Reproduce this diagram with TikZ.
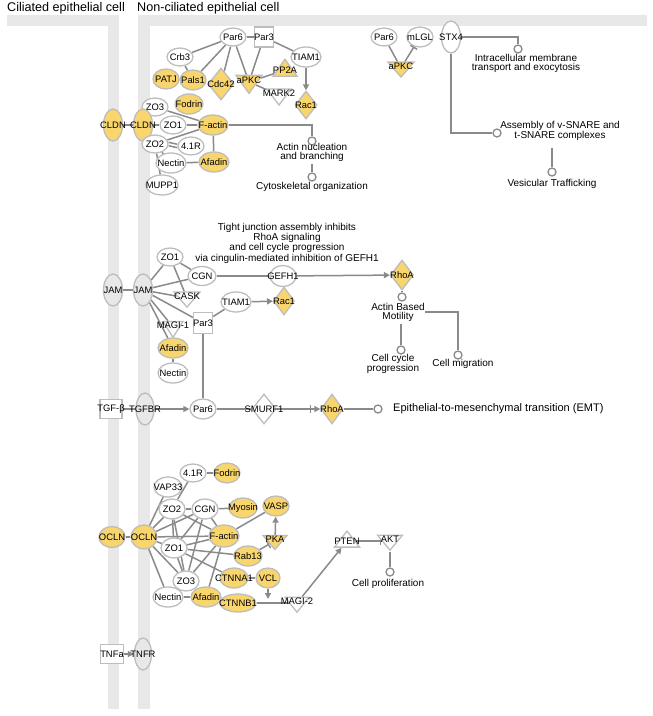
\documentclass[tikz,border=0pt]{standalone}
\usepackage{fontspec}
\setmainfont{Liberation Sans}
\usetikzlibrary{shapes.geometric,arrows.meta,calc}
\definecolor{ipayellow}{HTML}{F9D56E}
\definecolor{nodeborder}{HTML}{BDBDBD}
\definecolor{edgegray}{HTML}{8A8A8A}
\definecolor{bandgray}{HTML}{E8E8E8}
\pgfdeclarelayer{bands}
\pgfdeclarelayer{edges}
\pgfsetlayers{bands,edges,main}
\newcommand{\ipanf}{\fontsize{9.4}{9.4}\selectfont}
\newcommand{\ipaff}{\fontsize{10}{9}\selectfont}
\tikzset{
  base/.style={draw=nodeborder, line width=1.3pt, inner sep=0pt, fill=white},
  sz/.style 2 args={minimum width=#1pt, minimum height=#2pt},
  lb/.style={label={center:#1}},
  lbt/.style={label={[yshift=2pt]center:#1}},
  every label/.style={font=\ipanf, inner sep=0pt, text=black},
  ell/.style={base, ellipse},
  yell/.style={ell, fill=ipayellow},
  gell/.style={ell, fill=bandgray},
  sqr/.style={base, rectangle},
  dia/.style={base, diamond},
  ydia/.style={dia, fill=ipayellow},
  tdn/.style={base, isosceles triangle, isosceles triangle stretches, shape border rotate=270},
  ytdn/.style={tdn, fill=ipayellow},
  tup/.style={base, isosceles triangle, isosceles triangle stretches, shape border rotate=90},
  ytup/.style={tup, fill=ipayellow},
  fn/.style={circle, draw=edgegray, line width=1.3pt, fill=white, minimum size=8pt, inner sep=0pt},
  ln/.style={draw=edgegray, line width=1.5pt},
  act/.style={ln, -{Triangle[width=6pt,length=6pt]}},
  inh/.style={ln, -{Bar[width=8pt]}},
  txt/.style={font=\ipaff, align=center, inner sep=0pt},
  ttl/.style={font=\fontsize{12.6}{13}\selectfont, anchor=west, inner sep=0pt},
}
\begin{document}
\begin{tikzpicture}[x=1pt,y=-1pt]
\useasboundingbox (0,0) rectangle (653,716);
\begin{pgfonlayer}{bands}
\fill[bandgray] (7,15) rectangle (119,26);
\fill[bandgray] (108,15) rectangle (119,709);
\fill[bandgray] (138,15) rectangle (647,26);
\fill[bandgray] (138,15) rectangle (150,709);
\end{pgfonlayer}
\node[ttl] (tcil) at (7,8) {Ciliated epithelial cell};
\node[ttl] (tnon) at (137,8) {Non-ciliated epithelial cell};
% ---------- top section
\node[ell,sz={26}{18},lb=Par6] (par6a) at (233,37) {};
\node[sqr,sz={19}{20},lb=Par3] (par3a) at (264,37) {};
\node[ell,sz={26}{18},lb=Crb3] (crb3) at (180,57) {};
\node[ell,sz={30}{20},lb=TIAM1] (tiam1a) at (306,57) {};
\node[yell,sz={26}{20},lb=PATJ] (patj) at (166,79) {};
\node[yell,sz={26}{20},lb=Pals1] (pals1) at (193,80) {};
\node[ydia,sz={26}{32},lb=Cdc42] (cdc42) at (221,84) {};
\node[ytdn,sz={26}{18},lbt=aPKC] (apkca) at (249,82) {};
\node[ytup,sz={24}{17},lb=PP2A] (pp2a) at (285,70) {};
\node[tdn,sz={24}{16},lbt=MARK2] (mark2) at (279,95) {};
\node[ydia,sz={22}{28},lb=Rac1] (rac1a) at (306,105) {};
\node[ell,sz={26}{18},lb=ZO3] (zo3a) at (155,107) {};
\node[yell,sz={28}{20},lb=Fodrin] (fodrina) at (189,104) {};
\node[yell,sz={19}{32},lb=CLDN] (cldn1) at (113,125) {};
\node[yell,sz={19}{32},lb=CLDN] (cldn2) at (143,125) {};
\node[ell,sz={26}{18},lb=ZO1] (zo1a) at (173,125) {};
\node[yell,sz={30}{20},lb=F-actin] (factina) at (213,125) {};
\node[ell,sz={26}{18},lb=ZO2] (zo2a) at (155,144) {};
\node[ell,sz={26}{18},lb=4.1R] (r41a) at (191,146) {};
\node[ell,sz={30}{20},lb=Nectin] (nectina) at (171,163) {};
\node[yell,sz={30}{20},lb=Afadin] (afadina) at (214,162) {};
\node[ell,sz={32}{20},lb=MUPP1] (mupp1) at (162,185) {};
\node[fn] (fnact) at (312,141) {};
\node[txt] (fnacttxt) at (312,152) {Actin nucleation\\and branching};
\node[fn] (fncyto) at (312,177) {};
\node[txt] (fncytotxt) at (312,187) {Cytoskeletal organization};
% ---------- top right
\node[ell,sz={26}{18},lb=Par6] (par6b) at (384,37) {};
\node[ell,sz={26}{20},lb=mLGL] (mlgl) at (420,37) {};
\node[ell,sz={19}{32},lb=STX4] (stx4) at (451,37) {};
\node[ytdn,sz={26}{15},lbt=aPKC] (apkcb) at (401,68) {};
\node[fn] (fnintra) at (518,49) {};
\node[txt] (fnintratxt) at (526,63) {Intracellular membrane\\transport and exocytosis};
\node[fn] (fnsnare) at (497,133) {};
\node[txt] (fnsnaretxt) at (560,131) {Assembly of v-SNARE and\\t-SNARE complexes};
\node[fn] (fnvesic) at (552,172) {};
\node[txt] (fnvesictxt) at (552,184) {Vesicular Trafficking};
% ---------- middle
\node[gell,sz={19}{32},lb=JAM] (jam1) at (113,290) {};
\node[gell,sz={19}{32},lb=JAM] (jam2) at (143,290) {};
\node[ell,sz={26}{18},lb=ZO1] (zo1b) at (170,257) {};
\node[ell,sz={28}{19},lb=CGN] (cgnb) at (202,276) {};
\node[tdn,sz={26}{15},lbt=CASK] (caskb) at (187,298) {};
\node[ell,sz={30}{20},lb=TIAM1] (tiam1b) at (236,302) {};
\node[sqr,sz={19}{21},lb=Par3] (par3b) at (203,323) {};
\node[tdn,sz={20}{16},lbt=MAGI-1] (magi1) at (173,327) {};
\node[yell,sz={30}{20},lb=Afadin] (afadinb) at (173,348) {};
\node[ell,sz={30}{20},lb=Nectin] (nectinb) at (173,373) {};
\node[ell,sz={26}{21},lb=GEFH1] (gefh1) at (283,276) {};
\node[ydia,sz={21}{28},lb=Rac1] (rac1b) at (284,301) {};
\node[ydia,sz={23}{30},lb=RhoA] (rhoab) at (402,275) {};
\node[fn] (fnmot) at (402,297) {};
\node[txt] (fnmottxt) at (398,312) {Actin Based\\Motility};
\node[fn] (fncc) at (401,350) {};
\node[txt] (fncctxt) at (393,364) {Cell cycle\\progression};
\node[fn] (fnmig) at (458,355) {};
\node[txt] (fnmigtxt) at (463,364) {Cell migration};
\node[txt] (tjtxt) at (287,243) {Tight junction assembly inhibits\\RhoA signaling\\and cell cycle progression\\via cingulin-mediated inhibition of GEFH1};
% ---------- TGF row
\node[sqr,sz={22}{19},lb=TGF-β] (tgfb) at (111,409) {};
\node[gell,sz={18}{32},lb=TGFBR] (tgfbr) at (145,409) {};
\node[ell,sz={26}{20},lb=Par6] (par6c) at (203,409) {};
\node[dia,sz={24}{30},lb=SMURF1] (smurf1) at (264,409) {};
\node[ydia,sz={22}{30},lb=RhoA] (rhoac) at (332,409) {};
\node[fn] (fnemt) at (378,409) {};
\node[txt,anchor=west,font=\fontsize{11}{11}\selectfont] (fnemttxt) at (393,409) {Epithelial-to-mesenchymal transition (EMT)};
% ---------- bottom
\node[yell,sz={26}{21},lb=OCLN] (ocln1) at (112,537) {};
\node[yell,sz={26}{24},lb=OCLN] (ocln2) at (144,537) {};
\node[ell,sz={26}{18},lb=4.1R] (r41c) at (193,473) {};
\node[yell,sz={26}{20},lb=Fodrin] (fodrinc) at (227,473) {};
\node[ell,sz={28}{20},lb=VAP33] (vap33) at (168,487) {};
\node[ell,sz={26}{20},lb=ZO2] (zo2c) at (172,509) {};
\node[ell,sz={26}{20},lb=CGN] (cgnc) at (205,509) {};
\node[yell,sz={28}{20},lb=Myosin] (myosin) at (243,508) {};
\node[yell,sz={26}{20},lb=VASP] (vasp) at (276,506) {};
\node[yell,sz={30}{22},lb=F-actin] (factinc) at (224,536) {};
\node[ell,sz={26}{20},lb=ZO1] (zo1c) at (174,548) {};
\node[ytdn,sz={24}{14},lbt=PKA] (pka) at (275,541) {};
\node[yell,sz={28}{20},lb=Rab13] (rab13) at (248,556) {};
\node[ell,sz={26}{20},lb=ZO3] (zo3c) at (186,581) {};
\node[yell,sz={28}{20},lb=CTNNA1] (ctnna1) at (234,578) {};
\node[yell,sz={24}{20},lb=VCL] (vcl) at (268,578) {};
\node[ell,sz={30}{20},lb=Nectin] (nectinc) at (168,597) {};
\node[yell,sz={30}{20},lb=Afadin] (afadinc) at (206,597) {};
\node[yell,sz={36}{18},lb=CTNNB1] (ctnnb1) at (238,603) {};
\node[tdn,sz={24}{15},lbt=MAGI-2] (magi2) at (297,603) {};
\node[tup,sz={25}{16},lb=PTEN] (pten) at (347,541) {};
\node[tdn,sz={25}{15},lbt=AKT] (akt) at (390,541) {};
\node[fn] (fnpro) at (390,572) {};
\node[txt] (fnprotxt) at (388,584) {Cell proliferation};
\coordinate (vclhit) at (268,599);
% ---------- TNF
\node[sqr,sz={23}{19},lb=TNFa] (tnfa) at (112,654) {};
\node[gell,sz={17}{32},lb=TNFR] (tnfr) at (143,654) {};
% ================= edges
\begin{pgfonlayer}{edges}
% top
\draw[ln] (par6a) -- (par3a);
\draw[ln] (par6a) -- (crb3);
\draw[ln] (par6a) -- (pals1);
\draw[ln] (par6a) -- (cdc42);
\draw[ln] (par6a) -- (apkca);
\draw[ln] (par3a) -- (apkca);
\draw[ln] (par3a) -- (tiam1a);
\draw[act] (tiam1a) -- (rac1a);
\draw[ln] (apkca) -- (pp2a);
\draw[ln] (apkca) -- (mark2);
\draw[ln] (crb3) -- (pals1);
\draw[ln] (patj) -- (pals1);
\draw[ln] (zo3a) -- (factina);
\draw[ln] (cldn1) -- (cldn2);
\draw[ln] (cldn2) -- (zo1a);
\draw[ln] (zo1a) -- (factina);
\draw[ln] (zo2a) -- (factina);
\draw[ln] ([yshift=-1.7pt]zo2a.east) -- ([yshift=-1.7pt]r41a.west);
\draw[ln] ([yshift=1.7pt]zo2a.east) -- ([yshift=1.7pt]r41a.west);
\draw[ln] (zo2a) -- (nectina);
\draw[ln] (zo2a) -- (mupp1);
\draw[ln] (nectina) -- (afadina);
\draw[ln] (afadina) -- (factina);
\draw[ln] (factina) -| (fnact);
\draw[ln,shorten <=3pt] (fnacttxt.south) -- (fncyto);
% top right
\draw[ln] (par6b) -- (apkcb);
\draw[inh] (apkcb) -- (mlgl);
\draw[ln] (stx4.east) -| (fnintra);
\draw[ln] (stx4.south) |- (fnsnare);
\draw[ln,shorten <=7pt] (fnsnaretxt.south -| fnvesic) -- (fnvesic);
% middle
\draw[ln] (jam1) -- (jam2);
\draw[ln] (jam2) -- (zo1b);
\draw[ln] (jam2) -- (cgnb);
\draw[ln] (jam2) -- (caskb);
\draw[ln] (jam2) -- (par3b);
\draw[ln] (jam2) -- (magi1);
\draw[ln] (jam2) -- (afadinb);
\draw[ln] (zo1b) -- (cgnb);
\draw[ln] (zo1b) -- (caskb);
\draw[ln] (cgnb) -- (gefh1);
\draw[act] (gefh1) -- (rhoab);
\draw[ln] (par3b) -- (tiam1b);
\draw[act] (tiam1b) -- (rac1b);
\draw[ln] (afadinb) -- (nectinb);
\draw[ln] (par3b) -- (par6c);
\draw[ln] (rhoab) -- (fnmot);
\draw[ln,shorten <=3pt] (fnmottxt.south -| fncc) -- (fncc);
\draw[ln] (fnmottxt.east) -| (fnmig);
% TGF row
\draw[ln] (tgfb) -- (tgfbr);
\draw[act] (tgfbr) -- (par6c);
\draw[ln] (par6c) -- (smurf1);
\draw[ln,-{Bar[width=8pt,sep=3pt]Triangle[width=6pt,length=6pt]}] (smurf1) -- (rhoac);
\draw[ln] (rhoac) -- (fnemt);
% bottom
\draw[ln] (ocln1) -- (ocln2);
\draw[ln] (ocln2) -- (vap33);
\draw[ln] (ocln2) -- (zo2c);
\draw[ln] (ocln2) -- (cgnc);
\draw[ln] (ocln2) -- (factinc);
\draw[ln] (ocln2) -- (zo1c);
\draw[ln] (ocln2) -- (zo3c);
\draw[ln] (ocln2) -- (nectinc);
\draw[ln] (r41c) -- (zo2c);
\draw[ln] (r41c) -- (fodrinc);
\draw[ln] (zo2c) -- (cgnc);
\draw[ln] (cgnc) -- (myosin);
\draw[ln] (zo2c) -- (factinc);
\draw[ln] (cgnc) -- (factinc);
\draw[ln] (zo2c) -- (zo1c);
\draw[ln] (zo2c) -- (zo3c);
\draw[ln] (cgnc) -- (zo1c);
\draw[ln] (cgnc) -- (zo3c);
\draw[ln] (zo1c) -- (factinc);
\draw[ln] (zo1c) -- (rab13);
\draw[ln] (zo1c) -- (ctnna1);
\draw[ln] (zo1c) -- (zo3c);
\draw[ln] (factinc) -- (zo3c);
\draw[ln] (factinc) -- (afadinc);
\draw[ln] (nectinc) -- (afadinc);
\draw[ln] (factinc) -- (vasp);
\draw[act] (pka) -- (vasp);
\draw[inh] (rab13) -- (pka);
\draw[ln] (ctnna1) -- (vcl);
\draw[act] (vcl) -- (vclhit);
\draw[ln] (ctnnb1) -- (magi2);
\draw[act] (magi2) -- (pten);
\draw[inh] (pten) -- (akt);
\draw[ln] (akt) -- (fnpro);
% TNF
\draw[act] (tnfa) -- (tnfr);
\end{pgfonlayer}
\end{tikzpicture}
\end{document}
